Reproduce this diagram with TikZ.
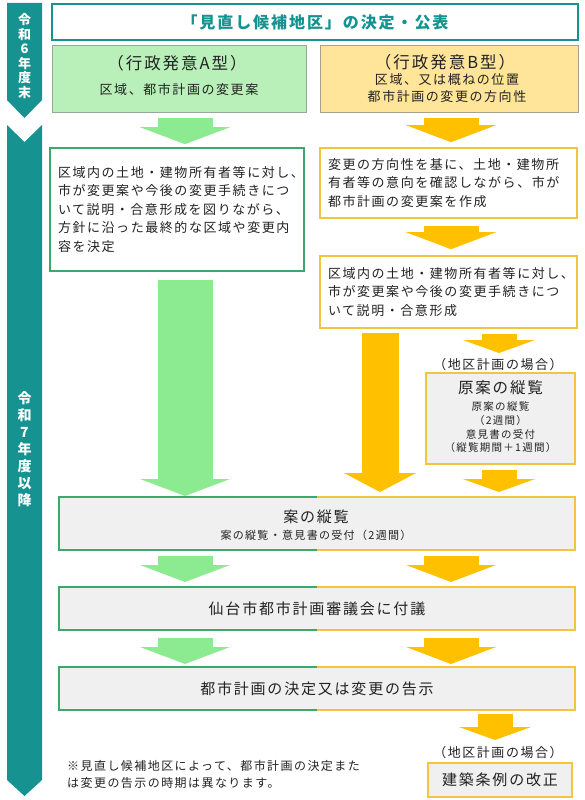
\documentclass[tikz,border=0pt]{standalone}
\usepackage{fontspec}
\setmainfont{Noto Sans CJK JP}
\newfontfamily\jpa{Noto Sans CJK JP}[LetterSpace=12]
\usetikzlibrary{arrows.meta}
\definecolor{tealc}{RGB}{22,146,144}
\definecolor{afill}{RGB}{185,240,185}
\definecolor{aline}{RGB}{150,168,150}
\definecolor{bfill}{RGB}{255,229,153}
\definecolor{bline}{RGB}{168,160,140}
\definecolor{gline}{RGB}{60,168,110}
\definecolor{yline}{RGB}{242,196,64}
\definecolor{garrowc}{RGB}{140,235,145}
\definecolor{yarrowc}{RGB}{255,192,0}
\definecolor{grayc}{RGB}{240,240,240}
\definecolor{textc}{RGB}{34,34,34}
\begin{document}
\begin{tikzpicture}[x=1pt,y=-1pt]
	\tikzstyle{topbox} = [draw=tealc, line width=1.8pt, minimum width=526pt, minimum height=36pt, text=tealc, font=\jpa\bfseries\fontsize{16}{18}\selectfont]
	\tikzstyle{abox} = [draw=aline, line width=1pt, fill=afill, minimum width=254pt, minimum height=66pt]
	\tikzstyle{bbox} = [draw=bline, line width=1pt, fill=bfill, minimum width=258pt, minimum height=66pt]
	\tikzstyle{gtext} = [draw=gline, line width=1.6pt, fill=white, inner xsep=8pt, align=left, text=textc, font=\jpa\fontsize{13}{18.5}\selectfont]
	\tikzstyle{ytext} = [gtext, draw=yline]
	\tikzstyle{graybox} = [draw=yline, line width=1.6pt, fill=grayc, outer sep=0]
	\tikzstyle{splitbox} = [fill=grayc, outer sep=0, minimum width=516pt, text=textc, font=\jpa\fontsize{15}{18}\selectfont]
	\tikzstyle{headtext} = [text=textc, inner sep=0, font=\jpa\fontsize{15.5}{18}\selectfont]
	\tikzstyle{bodytext} = [text=textc, inner sep=0, align=center, font=\jpa\fontsize{13}{17}\selectfont]
	\tikzstyle{smalltext} = [text=textc, inner sep=0, align=center, font=\jpa\fontsize{10.5}{13.7}\selectfont]
	\tikzstyle{tcol} = [text=white, inner sep=0, align=center]
	\tikzstyle{garrow} = [draw=garrowc, line width=55pt, -{Triangle[length=17pt,width=90pt,line width=0pt]}]
	\tikzstyle{yarrow} = [garrow, draw=yarrowc]
	\tikzstyle{ysmall} = [draw=yarrowc, line width=35pt, -{Triangle[length=13pt,width=72pt,line width=0pt]}]
	\tikzstyle{ylong} = [ysmall, line width=37pt, -{Triangle[length=19pt,width=72pt,line width=0pt]}]
	\tikzstyle{gedge} = [draw=gline, line width=1.6pt]
	\tikzstyle{yedge} = [draw=yline, line width=1.6pt]
	\useasboundingbox (0,0) rectangle (584,800);
\fill [tealc] (7,3) -- (42,3) -- (42,100) -- (24.5,118) -- (7,100) -- cycle;
\fill [tealc] (7,125) -- (24.5,142) -- (42,125) -- (42,780) -- (24.5,796) -- (7,780) -- cycle;
\node [tcol, font=\bfseries\fontsize{13}{14.6}\selectfont] (t6) at (24.5,56) {令\\和\\6\\年\\度\\末};
\node [tcol, font=\bfseries\fontsize{14}{17}\selectfont] (t7) at (24.5,449.5) {令\\和\\7\\年\\度\\以\\降};
\node [topbox] (top) at (315,22) {「見直し候補地区」の決定・公表};
\node [abox] (pa) at (179,79) {};
\node [bbox] (pb) at (449,79) {};
\node [headtext, font=\jpa\fontsize{16.5}{18}\selectfont] (pat) at (177,63) {（行政発意A型）};
\node [bodytext] (pas) at (179,90) {区域、都市計画の変更案};
\node [headtext, font=\jpa\fontsize{16.5}{18}\selectfont] (pbt) at (445,62) {（行政発意B型）};
\node [bodytext] (pbs) at (447,88.5) {区域、又は概ねの位置\\都市計画の変更の方向性};
\node [gtext, text width=238pt, minimum height=123pt] (ga) at (177,209.5) {区域内の土地・建物所有者等に対し、\\市が変更案や今後の変更手続きにつ\\いて説明・合意形成を図りながら、\\方針に沿った最終的な区域や変更内\\容を決定};
\node [ytext, text width=241pt, minimum height=70pt] (yb) at (448.5,183) {変更の方向性を基に、土地・建物所\\有者等の意向を確認しながら、市が\\都市計画の変更案を作成};
\node [ytext, text width=241pt, minimum height=72pt] (yc) at (448.5,292) {区域内の土地・建物所有者等に対し、\\市が変更案や今後の変更手続きにつ\\いて説明・合意形成};
\node [bodytext] (case1) at (498,365) {（地区計画の場合）};
\node [graybox, minimum width=149pt, minimum height=91pt] (yd) at (500.5,418.5) {};
\node [headtext] (ydt) at (500.5,388) {原案の縦覧};
\node [smalltext] (yds) at (500.5,427.5) {原案の縦覧\\（2週間）\\意見書の受付\\（縦覧期間＋1週間）};
\node [splitbox, minimum height=53pt] (s1) at (317,523.5) {};
\node [headtext, font=\jpa\fontsize{15}{18}\selectfont] (s1t) at (316,517) {案の縦覧};
\node [smalltext, font=\jpa\fontsize{11}{13}\selectfont] (s1s) at (316,535) {案の縦覧・意見書の受付（2週間）};
\node [splitbox, minimum height=43pt] (s2) at (317,608.5) {仙台市都市計画審議会に付議};
\node [splitbox, minimum height=43pt] (s3) at (317,688.5) {都市計画の決定又は変更の告示};
\node [bodytext] (case2) at (498,753) {（地区計画の場合）};
\node [graybox, minimum width=144pt, minimum height=34pt, text=textc, font=\jpa\fontsize{15}{18}\selectfont] (ye) at (500,780) {建築条例の改正};
\node [bodytext, align=left, anchor=west, font=\jpa\fontsize{12}{17}\selectfont] (memo) at (67,774.5) {※見直し候補地区によって、都市計画の決定また\\は変更の告示の時期は異なります。};
\draw [gedge] (s1.north) -- (s1.north west) -- (s1.south west) -- (s1.south);
\draw [yedge] (s1.north) -- (s1.north east) -- (s1.south east) -- (s1.south);
\draw [gedge] (s2.north) -- (s2.north west) -- (s2.south west) -- (s2.south);
\draw [yedge] (s2.north) -- (s2.north east) -- (s2.south east) -- (s2.south);
\draw [gedge] (s3.north) -- (s3.north west) -- (s3.south west) -- (s3.south);
\draw [yedge] (s3.north) -- (s3.north east) -- (s3.south east) -- (s3.south);
\coordinate (gx) at (185,0);
\coordinate (yx) at (451,0);
\coordinate (lx) at (380,0);
\coordinate (sx) at (499,0);
\coordinate (ex) at (495,0);
\draw [garrow, shorten <=5pt, shorten >=3pt] (pa.south -| gx) -- (ga.north -| gx);
\draw [garrow, shorten <=8pt, shorten >=1pt] (ga.south -| gx) -- (s1.north -| gx);
\draw [garrow, shorten <=6pt, shorten >=5pt] (s1.south -| gx) -- (s2.north -| gx);
\draw [garrow, shorten <=8pt, shorten >=3pt] (s2.south -| gx) -- (s3.north -| gx);
\draw [yarrow, shorten <=5pt, shorten >=5pt] (pb.south -| yx) -- (yb.north -| yx);
\draw [yarrow, shorten <=7pt, shorten >=6pt] (yb.south -| yx) -- (yc.north -| yx);
\draw [ylong, shorten <=4pt, shorten >=5pt] (yc.south -| lx) -- (s1.north -| lx);
\draw [ysmall, shorten <=5pt, shorten >=20pt] (yc.south -| sx) -- (yd.north -| sx);
\draw [ysmall, shorten <=6pt, shorten >=5pt] (yd.south -| sx) -- (s1.north -| sx);
\draw [yarrow, shorten <=6pt, shorten >=5pt] (s1.south -| yx) -- (s2.north -| yx);
\draw [yarrow, shorten <=8pt, shorten >=3pt] (s2.south -| yx) -- (s3.north -| yx);
\draw [ysmall, shorten <=4pt, shorten >=23pt] (s3.south -| ex) -- (ye.north -| ex);
\end{tikzpicture}
\end{document}
